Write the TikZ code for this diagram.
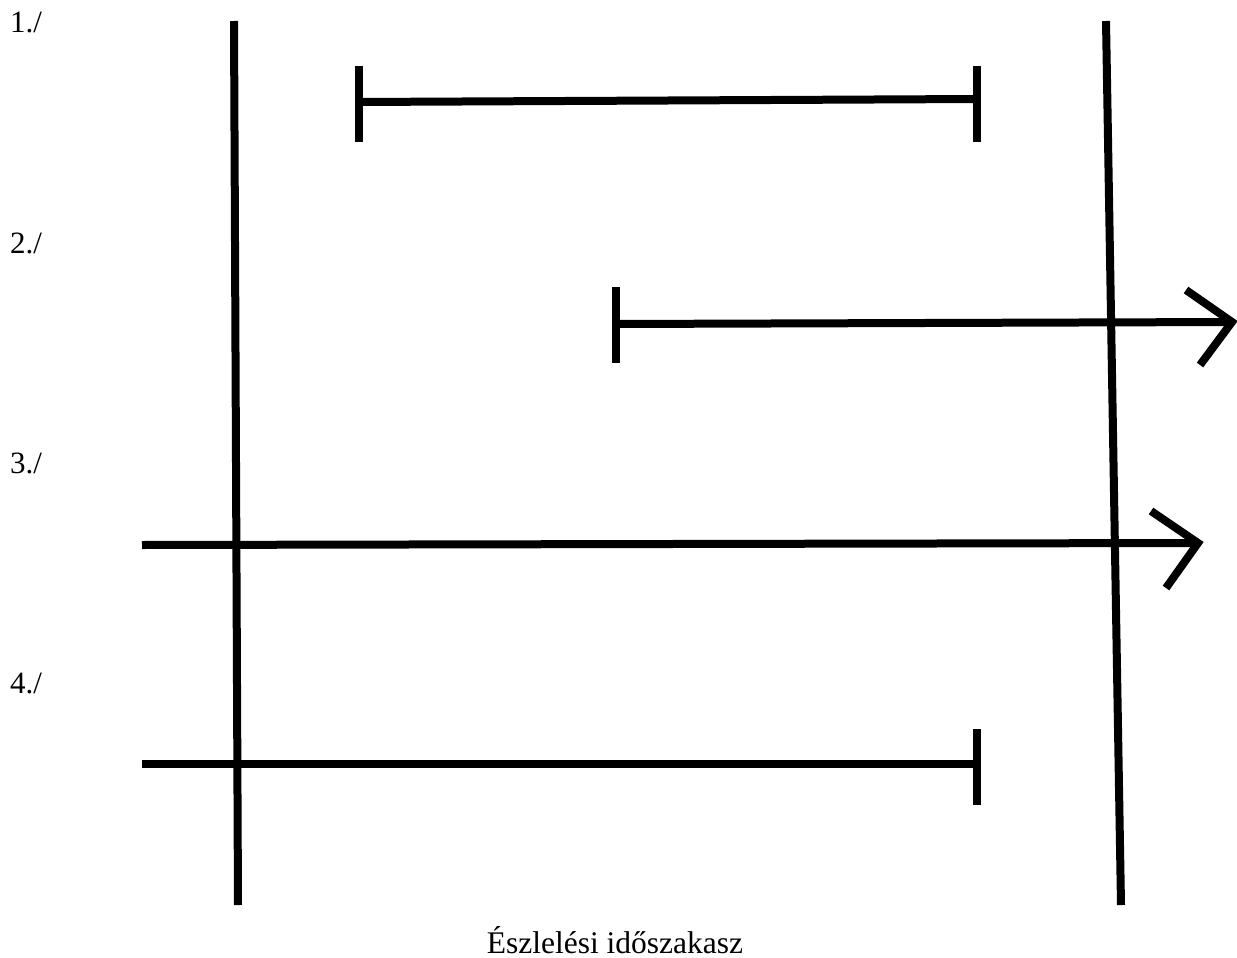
\documentclass[tikz,border=0pt]{standalone}
\usepackage{fontspec}
\setmainfont{Liberation Serif}
\begin{document}
\begin{tikzpicture}[x=1pt,y=-1pt,
  bar/.style={line width=8pt,line cap=butt},
  lbl/.style={anchor=base west,inner sep=0pt,font=\fontsize{31}{34}\selectfont}]
\useasboundingbox (0,0) rectangle (1237,958);
% observation window boundaries
\coordinate (L1) at (234,21); \coordinate (L2) at (238,905);
\coordinate (R1) at (1106,21); \coordinate (R2) at (1121,905);
\draw[bar] (L1) -- (L2);
\draw[bar] (R1) -- (R2);
% labels
\node[lbl] (n1) at (10,33) {1./};
\node[lbl] (n2) at (10,253) {2./};
\node[lbl] (n3) at (10,473) {3./};
\node[lbl] (n4) at (10,693) {4./};
% 1
\coordinate (a1) at (359,102); \coordinate (b1) at (977,99);
\draw[bar] (a1) -- (b1);
\draw[bar] (359,66) -- (359,142);
\draw[bar] (977,66) -- (977,142);
% 2
\coordinate (a2) at (616,324); \coordinate (b2) at (1232,322);
\draw[bar] (a2) -- (b2);
\draw[bar] (616,287) -- (616,363);
\draw[bar,line join=miter] (1186,290) -- (b2) -- (1200,365);
% 3
\coordinate (a3) at (142,545); \coordinate (b3) at (1198,543);
\draw[bar] (a3) -- (b3);
\draw[bar,line join=miter] (1151,511) -- (b3) -- (1166,588);
% 4
\coordinate (a4) at (142,764); \coordinate (b4) at (977,764);
\draw[bar] (a4) -- (b4);
\draw[bar] (977,729) -- (977,805);
% caption
\node[anchor=base,inner sep=0pt,font=\fontsize{31.5}{34}\selectfont] (cap) at (615,953) {Észlelési időszakasz};
\end{tikzpicture}
\end{document}
